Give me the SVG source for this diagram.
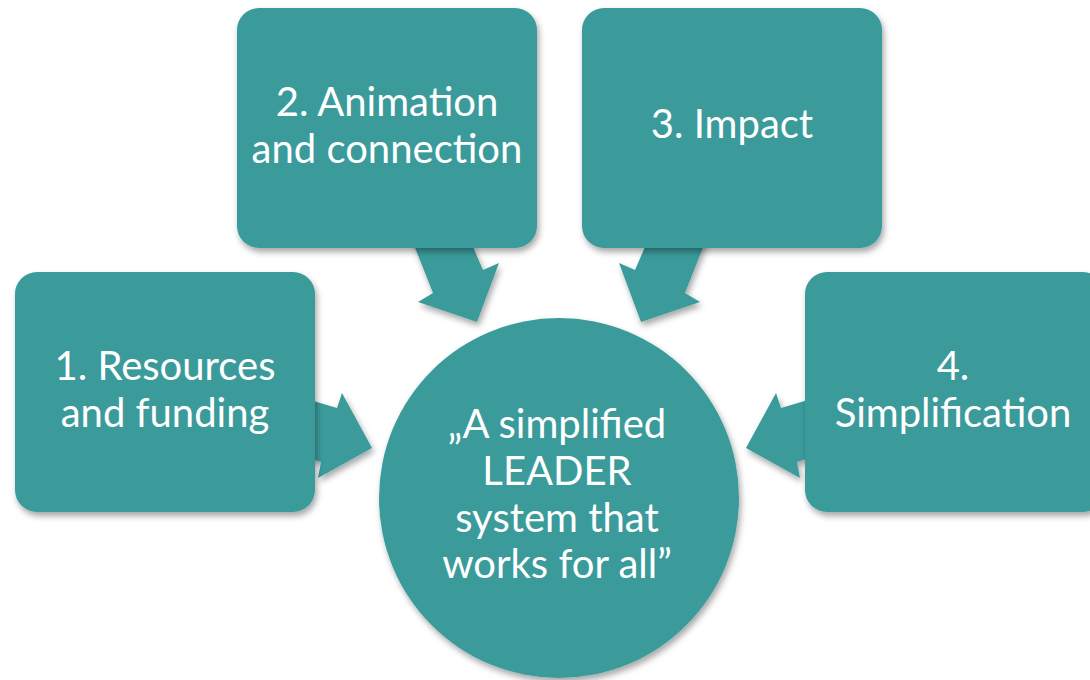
<svg xmlns="http://www.w3.org/2000/svg" width="1090" height="680" viewBox="0 0 1090 680">
<defs>
<filter id="sh" x="-20%" y="-20%" width="140%" height="140%">
<feDropShadow dx="2" dy="4" stdDeviation="3" flood-color="#000" flood-opacity="0.35"/>
</filter>
</defs>
<style>
.shape{fill:#3a9b9b;filter:url(#sh);}
.lbl{font-family:Lato,"Liberation Sans",sans-serif;font-size:40px;fill:#ffffff;text-anchor:middle;}
</style>
<rect width="1090" height="680" fill="#ffffff"/>
<g id="connectors">
<polygon class="shape" points="300,397 337,408 342,393 372,448 318,478 321,462 300,455"/>
<polygon class="shape" points="412,240 433,293 418,302 477,322 499,263 483,270 470,240"/>
<polygon class="shape" points="706,240 685,293 700,302 641,322 619,263 635,270 648,240"/>
<polygon class="shape" points="818,397 781,408 776,393 746,448 800,478 797,462 818,455"/>
</g>
<g id="node1">
<rect class="shape" x="15" y="272" width="300" height="240" rx="22"/>
<text class="lbl" x="165" y="380">1. Resources</text>
<text class="lbl" x="165" y="427">and funding</text>
</g>
<g id="node2">
<rect class="shape" x="237" y="8" width="300" height="240" rx="22"/>
<text class="lbl" x="387" y="116">2. Animation</text>
<text class="lbl" x="387" y="163">and connection</text>
</g>
<g id="node3">
<rect class="shape" x="582" y="8" width="300" height="240" rx="22"/>
<text class="lbl" x="732" y="138">3. Impact</text>
</g>
<g id="node4">
<rect class="shape" x="805" y="272" width="300" height="240" rx="22"/>
<text class="lbl" x="953" y="380">4.</text>
<text class="lbl" x="953" y="427">Simplification</text>
</g>
<g id="center">
<circle class="shape" cx="559" cy="498" r="180"/>
<text class="lbl" x="557" y="438">„A simplified</text>
<text class="lbl" x="557" y="485">LEADER</text>
<text class="lbl" x="557" y="532">system that</text>
<text class="lbl" x="557" y="578">works for all”</text>
</g>
</svg>
